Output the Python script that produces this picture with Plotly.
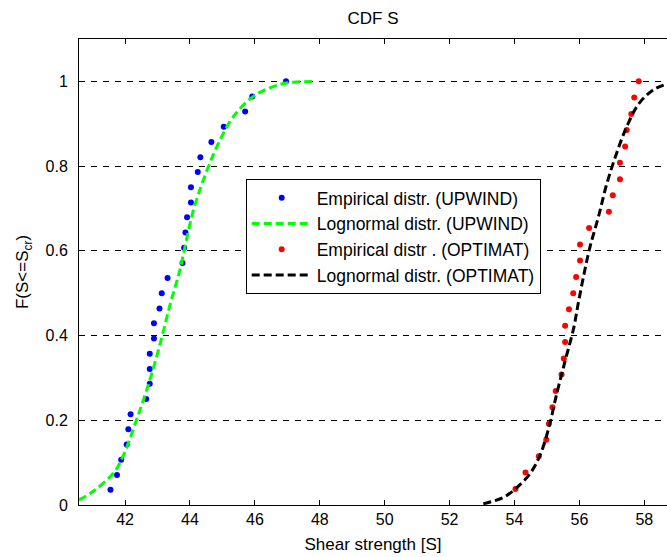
import plotly.graph_objects as go

# Empirical distribution (UPWIND)
up_x = [41.55, 41.75, 41.88, 42.05, 42.10, 42.17, 42.65, 42.76, 42.76, 42.76,
        42.89, 42.89, 43.06, 43.13, 43.31, 43.77, 43.82, 43.86, 43.91, 44.03,
        44.03, 44.24, 44.32, 44.66, 45.04, 45.70, 45.92, 46.96]
up_F = [0.036, 0.071, 0.107, 0.143, 0.179, 0.214, 0.250, 0.286, 0.321, 0.357,
        0.393, 0.429, 0.464, 0.500, 0.536, 0.571, 0.607, 0.643, 0.679, 0.714,
        0.750, 0.786, 0.821, 0.857, 0.893, 0.929, 0.964, 1.000]

# Lognormal fit (UPWIND)
up_ln_x = [40.58, 41.03, 41.65, 41.96, 42.32, 42.57, 42.83, 43.14, 43.40, 43.68,
           44.11, 44.57, 44.93, 45.34, 45.96, 46.78, 47.20, 47.86]
up_ln_F = [0.012, 0.033, 0.076, 0.119, 0.194, 0.249, 0.312, 0.398, 0.477, 0.552,
           0.697, 0.799, 0.862, 0.917, 0.965, 0.993, 0.998, 1.000]

# Empirical distribution (OPTIMAT)
op_x = [54.03, 54.34, 54.75, 54.98, 55.06, 55.17, 55.27, 55.45, 55.52, 55.56,
        55.56, 55.68, 55.81, 55.90, 56.02, 56.02, 56.30, 56.91, 57.03, 57.25,
        57.25, 57.41, 57.46, 57.60, 57.69, 57.83]
op_F = [0.038, 0.077, 0.115, 0.154, 0.192, 0.231, 0.269, 0.308, 0.346, 0.385,
        0.423, 0.462, 0.500, 0.538, 0.577, 0.615, 0.654, 0.692, 0.731, 0.769,
        0.808, 0.846, 0.885, 0.923, 0.962, 1.000]

# Lognormal fit (OPTIMAT)
op_ln_x = [53.04, 53.66, 54.07, 54.48, 54.79, 55.05, 55.30, 55.56, 55.82, 55.97,
           56.15, 56.33, 56.59, 56.84, 57.15, 57.46, 57.82, 58.28, 58.70]
op_ln_F = [0.003, 0.018, 0.041, 0.074, 0.118, 0.180, 0.262, 0.340, 0.416, 0.478,
           0.548, 0.610, 0.681, 0.757, 0.831, 0.893, 0.946, 0.980, 0.994]

x_ticks = [42, 44, 46, 48, 50, 52, 54, 56, 58]
y_ticks = [0, 0.2, 0.4, 0.6, 0.8, 1]
y_tick_text = ["0", "0.2", "0.4", "0.6", "0.8", "1"]

FONT = "Liberation Sans, Arial, sans-serif"

fig = go.Figure()
fig.add_trace(go.Scatter(x=up_x, y=up_F, mode="markers",
                         marker=dict(color="#0000ff", size=6),
                         name="Empirical distr. (UPWIND)", legendgroup="a"))
fig.add_trace(go.Scatter(x=up_ln_x, y=up_ln_F, mode="lines",
                         line=dict(color="#00ff00", width=3, dash="8px,4px", shape="spline"),
                         name="Lognormal distr. (UPWIND)", legendgroup="b"))
fig.add_trace(go.Scatter(x=op_x, y=op_F, mode="markers",
                         marker=dict(color="#ff0000", size=6),
                         name="Empirical distr . (OPTIMAT)", legendgroup="c"))
fig.add_trace(go.Scatter(x=op_ln_x, y=op_ln_F, mode="lines",
                         line=dict(color="#000000", width=3, dash="8px,4px", shape="spline"),
                         name="Lognormal distr. (OPTIMAT)", legendgroup="d"))

fig.update_layout(
    width=667, height=557,
    margin=dict(l=79, r=0, t=39, b=52, autoexpand=False),
    paper_bgcolor="white", plot_bgcolor="white",
    font=dict(family=FONT, size=16, color="black"),
    title=dict(text="CDF S", x=0.5, xref="paper", xanchor="center",
               y=1 - 12 / 557, yanchor="top", font=dict(size=17), automargin=False),
    showlegend=True,
    legend=dict(x=0.2835, y=0.70, xanchor="left", yanchor="top",
                bgcolor="white", bordercolor="black", borderwidth=1,
                font=dict(size=17.5), itemwidth=60, traceorder="grouped",
                tracegroupgap=0),
    xaxis=dict(range=[40.58, 58.70], tickvals=x_ticks, ticks="inside", ticklen=5,
               tickcolor="black", showline=True, linecolor="black", linewidth=1,
               mirror="ticks", showgrid=False, zeroline=False, automargin=False,
               title=dict(text="Shear strength [S]", font=dict(size=17), standoff=10)),
    yaxis=dict(range=[0, 1.1], tickvals=y_ticks, ticktext=y_tick_text, ticks="inside",
               ticklen=5, tickcolor="black", showline=True, linecolor="black",
               linewidth=1, mirror=False, showgrid=True, gridcolor="black",
               gridwidth=1, griddash="6px,6px", zeroline=False, ticklabelstandoff=7,
               automargin=False,
               title=dict(text="F(S&lt;=S<sub>cr</sub>)", font=dict(size=17), standoff=12)),
)

fig.write_html("out.html",
               config={"displayModeBar": False},
               post_script="document.body.style.margin='0px';"
                           "document.body.style.overflow='hidden';")
